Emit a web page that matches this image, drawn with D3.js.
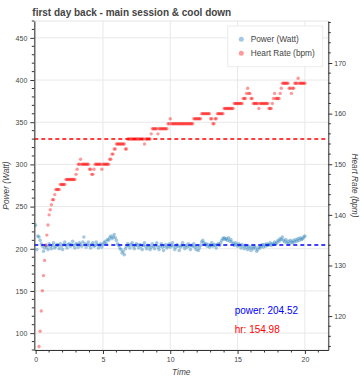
<!DOCTYPE html>
<html>
<head>
<meta charset="utf-8">
<script src="https://cdn.jsdelivr.net/npm/d3@7"></script>
<style>
  body { margin: 0; background: #fff; }
  text { font-family: 'Liberation Sans', Arial, Helvetica, sans-serif; }
</style>
</head>
<body>
<div id="chart"></div>
<script>
// samples every 5 s, time in minutes
const sampleSec = 5

const power = [
  228, 199, 215, 214, 210, 206, 203, 197, 201, 204,
  202, 199, 206, 203, 200, 204, 207, 201, 203, 205,
  204, 200, 206, 203, 199, 205, 208, 204, 201, 205,
  206, 203, 205, 209, 204, 201, 206, 205, 202, 207,
  205, 203, 208, 214, 206, 202, 205, 208, 204, 201,
  205, 207, 203, 204, 208, 205, 201, 204, 206, 202,
  205, 207, 209, 206, 211, 210, 213, 215, 212, 214,
  217, 213, 210, 206, 204, 201, 199, 195, 197, 193,
  200, 203, 206, 204, 201, 205, 207, 203, 200, 204,
  206, 204, 201, 205, 203, 199, 204, 207, 203, 200,
  204, 203, 199, 202, 206, 203, 200, 204, 207, 202,
  199, 203, 206, 202, 198, 203, 205, 201, 203, 206,
  202, 204, 207, 203, 199, 202, 205, 203, 198, 202,
  204, 207, 203, 200, 204, 202, 206, 203, 199, 204,
  203, 206, 202, 199, 203, 198, 201, 204, 208, 210,
  207, 205, 206, 203, 205, 202, 204, 207, 203, 205,
  204, 201, 205, 206, 204, 207, 210, 212, 213, 211,
  212, 210, 213, 209, 211, 208, 206, 204, 207, 205,
  203, 206, 204, 201, 205, 203, 200, 204, 202, 199,
  203, 201, 198, 202, 200, 203, 201, 197, 199, 202,
  201, 203, 205, 202, 205, 203, 206, 204, 205, 207,
  204, 206, 205, 208, 206, 207, 210, 209, 212, 211,
  214, 210, 208, 211, 207, 209, 206, 210, 208, 207,
  210, 208, 211, 209, 212, 210, 213, 211, 212, 214,
  215
]

const heartRate = [
  null, null, null, 114, 117, 121, 125, 128, 131, 134,
  136, 138, 140, 141, 142, 143, 143, 144, 145, 145,
  145, 145, 146, 146, 146, 146, 146, 147, 147, 147,
  147, 147, 147, 147, 147, 147, 148, 149, 150, 150,
  151, 150, 150, 150, 150, 150, 150, 150, 149, 149,
  148, 148, 149, 150, 150, 150, 150, 150, 150, 149,
  150, 150, 150, 150, 150, 150, 151, 151, 152, 152,
  153, 153, 154, 154, 154, 154, 154, 154, 154, 154,
  153, 153, 155, 155, 155, 155, 155, 155, 155, 155,
  155, 155, 155, 155, 155, 155, 155, 154, 155, 155,
  155, 155, 155, 156, 157, 157, 157, 157, 157, 156,
  157, 157, 157, 157, 157, 157, 157, 157, 158, 158,
  159, 158, 158, 158, 158, 158, 158, 158, 158, 158,
  158, 158, 158, 158, 158, 158, 158, 158, 158, 158,
  158, 159, 159, 159, 159, 159, 159, 159, 160, 160,
  160, 160, 160, 160, 160, 160, 159, 159, 158, 158,
  159, 159, 160, 160, 160, 160, 160, 160, 161, 161,
  161, 161, 161, 161, 161, 161, 161, 162, 162, 162,
  162, 162, 162, 162, 162, 163, 163, 163, 164, 165,
  164, 164, 163, 163, 162, 162, 162, 162, 162, 161,
  162, 162, 162, 162, 162, 162, 162, 162, 161, 161,
  161, 162, 163, 164, 163, 163, 163, 163, 164, 165,
  166, 166, 166, 166, 166, 166, 165, 165, 164, 165,
  165, 166, 166, 166, 167, 166, 166, 166, 166, 166,
  166
]

const powerMean = 204.52
const hrMean = 154.98

const xTicks = [0, 5, 10, 15, 20]
const powerTicks = [100, 150, 200, 250, 300, 350, 400, 450]
const hrTicks = [120, 130, 140, 150, 160, 170]

let width = 361
let height = 380
let margin = { top: 21, left: 34.3, right: 32.7, bottom: 30 }

let svg = d3
  .select('#chart')
  .append('svg')
  .attr('width', width)
  .attr('height', height)

let x0 = margin.left
let x1 = width - margin.right
let y0 = height - margin.bottom
let y1 = margin.top

let xScale = d3.scaleLinear().domain([-0.1, 21.74]).range([x0, x1])
let yPower = d3.scaleLinear().domain([80, 470]).range([y0, y1])
let yHr = d3.scaleLinear().domain([113.3, 178.3]).range([y0, y1])

let rows = power.map((p, i) => ({
  t: (i * sampleSec) / 60,
  power: p,
  hr: heartRate[i]
}))

svg
  .append('defs')
  .append('clipPath')
  .attr('id', 'plot-clip')
  .append('rect')
  .attr('x', x0)
  .attr('y', y1)
  .attr('width', x1 - x0)
  .attr('height', y0 - y1)

// grid
let grid = svg.append('g')
grid
  .selectAll('.vgrid')
  .data(xTicks)
  .enter()
  .append('line')
  .attr('x1', d => xScale(d))
  .attr('x2', d => xScale(d))
  .attr('y1', y1)
  .attr('y2', y0)
  .attr('stroke', '#e8e8e8')
grid
  .selectAll('.hgrid')
  .data(powerTicks)
  .enter()
  .append('line')
  .attr('x1', x0)
  .attr('x2', x1)
  .attr('y1', d => yPower(d))
  .attr('y2', d => yPower(d))
  .attr('stroke', '#e8e8e8')

svg
  .append('rect')
  .attr('x', x0)
  .attr('y', y1)
  .attr('width', x1 - x0)
  .attr('height', y0 - y1)
  .attr('fill', 'none')
  .attr('stroke', '#e5e5e5')

let plot = svg.append('g').attr('clip-path', 'url(#plot-clip)')

plot
  .selectAll('.power')
  .data(rows)
  .enter()
  .append('circle')
  .attr('class', 'power')
  .attr('cx', d => xScale(d.t))
  .attr('cy', d => yPower(d.power))
  .attr('r', 1.8)
  .attr('fill', '#1f77b4')
  .attr('fill-opacity', 0.4)

plot
  .selectAll('.hr')
  .data(rows.filter(d => d.hr !== null))
  .enter()
  .append('circle')
  .attr('class', 'hr')
  .attr('cx', d => xScale(d.t))
  .attr('cy', d => yHr(d.hr))
  .attr('r', 1.7)
  .attr('fill', '#ff0000')
  .attr('fill-opacity', 0.4)

plot
  .append('line')
  .attr('x1', x0)
  .attr('x2', x1)
  .attr('y1', yPower(powerMean))
  .attr('y2', yPower(powerMean))
  .attr('stroke', '#0000ff')
  .attr('stroke-width', 1.4)
  .attr('stroke-dasharray', '4,3')

plot
  .append('line')
  .attr('x1', x0)
  .attr('x2', x1)
  .attr('y1', yHr(hrMean))
  .attr('y2', yHr(hrMean))
  .attr('stroke', '#ff0000')
  .attr('stroke-width', 1.4)
  .attr('stroke-dasharray', '4,3')

// axes
function styleAxis(g) {
  g.select('.domain').attr('stroke', '#333')
  g.selectAll('.tick line').attr('stroke', '#333')
  g.selectAll('.tick text')
    .attr('fill', '#444')
    .style('font-size', '7px')
    .style('font-family', "'Liberation Sans', Arial, sans-serif")
}

function minorTicks(g, scale, values, orient) {
  values.forEach(v => {
    let p = scale(v)
    if (orient === 'left') {
      g.append('line').attr('x1', -2.5).attr('x2', 0).attr('y1', p).attr('y2', p)
    } else if (orient === 'right') {
      g.append('line').attr('x1', 0).attr('x2', 2.5).attr('y1', p).attr('y2', p)
    } else {
      g.append('line').attr('x1', p).attr('x2', p).attr('y1', 0).attr('y2', 2.5)
    }
  })
  g.selectAll('line').attr('stroke', '#333')
}

let xAxisG = svg
  .append('g')
  .attr('transform', `translate(0,${y0})`)
  .call(d3.axisBottom(xScale).tickValues(xTicks).tickSize(4).tickSizeOuter(0).tickPadding(3))
styleAxis(xAxisG)
minorTicks(xAxisG.append('g'), xScale, d3.range(0, 22, 1).filter(v => v % 5 !== 0), 'bottom')

let yAxisG = svg
  .append('g')
  .attr('transform', `translate(${x0},0)`)
  .call(d3.axisLeft(yPower).tickValues(powerTicks).tickSize(4).tickSizeOuter(0).tickPadding(3))
styleAxis(yAxisG)
minorTicks(yAxisG.append('g'), yPower, d3.range(80, 471, 10).filter(v => v % 50 !== 0), 'left')

let yRightG = svg
  .append('g')
  .attr('transform', `translate(${x1},0)`)
  .call(d3.axisRight(yHr).tickValues(hrTicks).tickSize(4).tickSizeOuter(0).tickPadding(2))
styleAxis(yRightG)
minorTicks(yRightG.append('g'), yHr, d3.range(114, 179, 2).filter(v => v % 10 !== 0), 'right')

// labels
svg
  .append('text')
  .attr('x', 32.3)
  .attr('y', 15.5)
  .attr('font-size', '10px')
  .attr('font-weight', 'bold')
  .attr('fill', '#444')
  .text('first day back - main session & cool down')

svg
  .append('text')
  .attr('x', (x0 + x1) / 2)
  .attr('y', 375)
  .attr('text-anchor', 'middle')
  .attr('font-size', '8.3px')
  .attr('font-style', 'italic')
  .attr('fill', '#444')
  .text('Time')

svg
  .append('text')
  .attr('transform', `translate(9,${(y0 + y1) / 2}) rotate(-90)`)
  .attr('text-anchor', 'middle')
  .attr('font-size', '8.3px')
  .attr('font-style', 'italic')
  .attr('fill', '#444')
  .text('Power (Watt)')

svg
  .append('text')
  .attr('transform', `translate(352,${(y0 + y1) / 2}) rotate(90)`)
  .attr('text-anchor', 'middle')
  .attr('font-size', '8.3px')
  .attr('font-style', 'italic')
  .attr('fill', '#444')
  .text('Heart Rate (bpm)')

svg
  .append('text')
  .attr('x', 234.7)
  .attr('y', 314.3)
  .attr('font-size', '10px')
  .attr('fill', '#0000ff')
  .text('power: ' + powerMean)

svg
  .append('text')
  .attr('x', 234.7)
  .attr('y', 332.6)
  .attr('font-size', '10px')
  .attr('fill', '#ff0000')
  .text('hr: ' + hrMean)

// legend
let legendItems = [
  { label: 'Power (Watt)', color: '#1f77b4' },
  { label: 'Heart Rate (bpm)', color: '#ff0000' }
]

let legend = svg.append('g')
legend
  .append('rect')
  .attr('x', 227.7)
  .attr('y', 26)
  .attr('width', 95)
  .attr('height', 40.7)
  .attr('fill', '#fff')
  .attr('fill-opacity', 0.95)
  .attr('stroke', '#ececec')

legend
  .selectAll('.item')
  .data(legendItems)
  .enter()
  .append('g')
  .attr('transform', (d, i) => `translate(241.3, ${39.3 + i * 14})`)
  .each(function(d) {
    let g = d3.select(this)
    g.append('circle')
      .attr('r', 2.5)
      .attr('fill', d.color)
      .attr('fill-opacity', 0.4)
    g.append('text')
      .attr('x', 9.4)
      .attr('dy', '0.35em')
      .attr('font-size', '8.3px')
      .attr('fill', '#444')
      .text(d.label)
  })
</script>
</body>
</html>
